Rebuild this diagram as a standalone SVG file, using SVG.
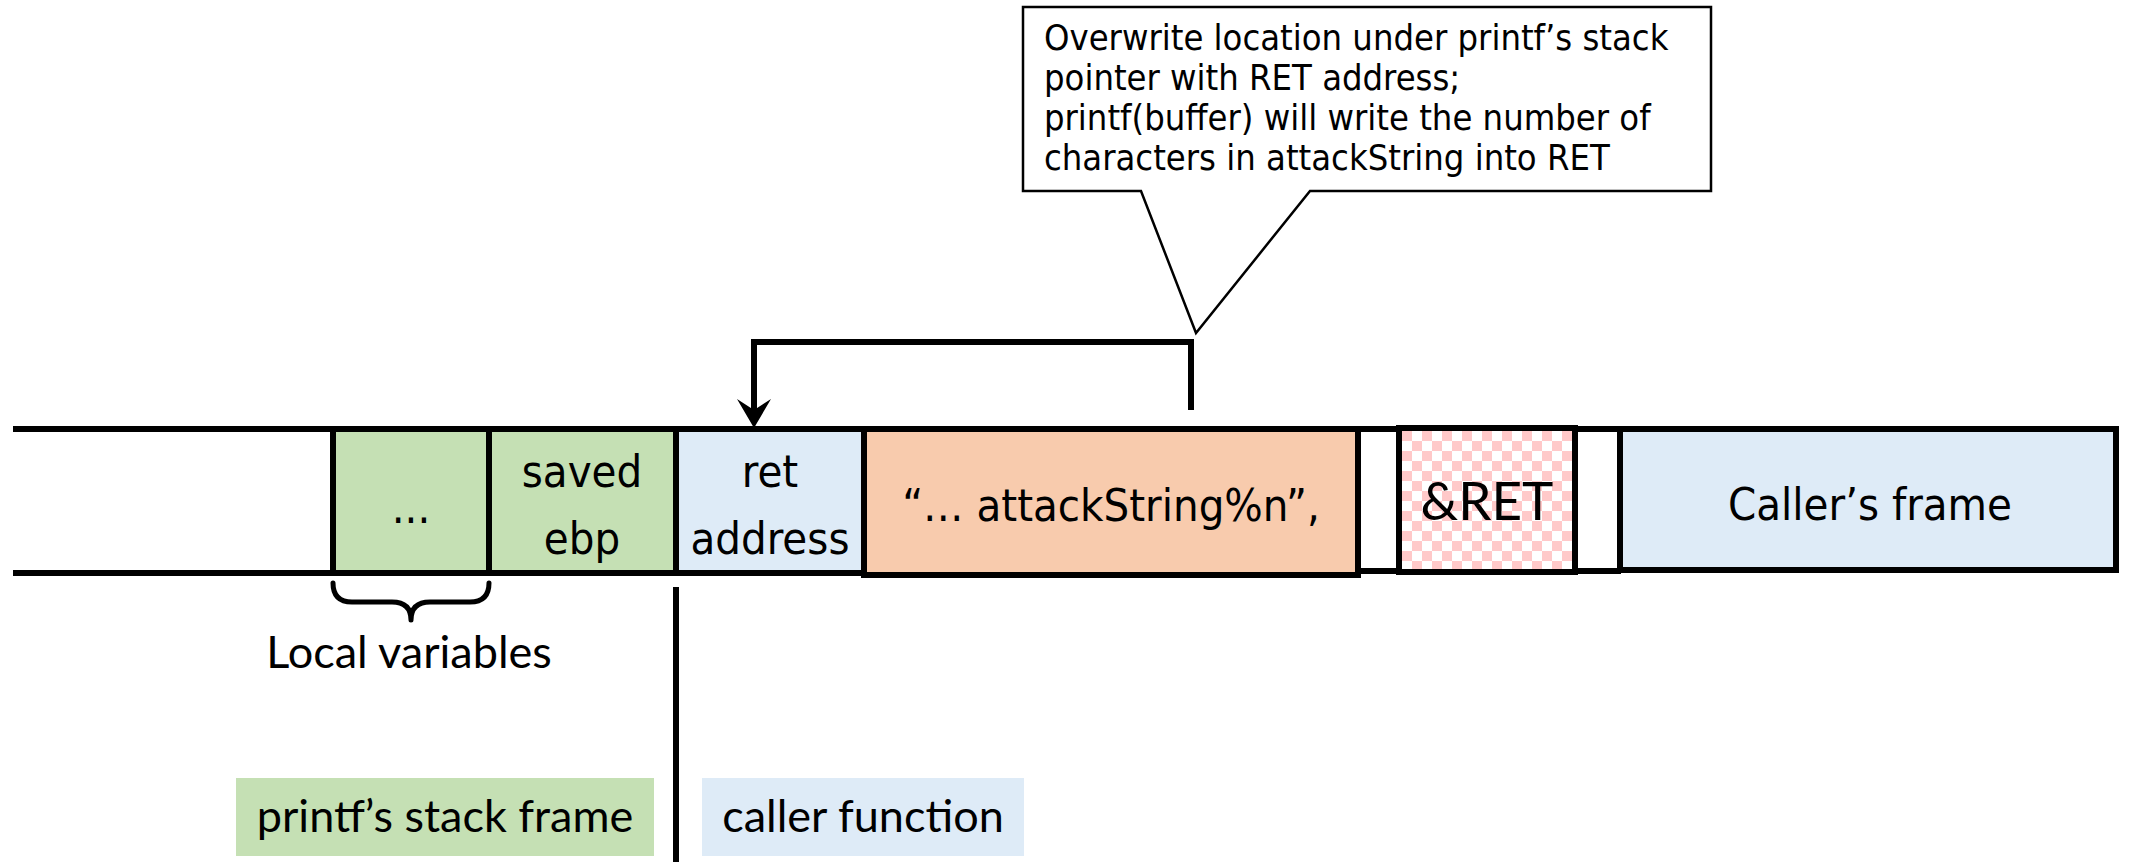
<svg xmlns="http://www.w3.org/2000/svg" width="2129" height="862" viewBox="0 0 2129 862">
  <style>
    .cell { stroke: #000; stroke-width: 6; }
    .rail { stroke: #000; stroke-width: 6; fill: none; }
    .lbl { font-family: "DejaVu Sans Condensed", "DejaVu Sans", sans-serif; font-stretch: condensed; font-size: 45px; fill: #000; text-anchor: middle; }
    .note { font-family: "DejaVu Sans Condensed", "DejaVu Sans", sans-serif; font-stretch: condensed; font-size: 36px; fill: #000; }
    .cap { font-family: Lato, "Open Sans", sans-serif; font-size: 45px; fill: #000; }
  </style>
  <defs>
    <pattern id="checker" x="1402" y="431" width="20" height="20" patternUnits="userSpaceOnUse">
      <rect width="20" height="20" fill="#fff"/>
      <rect width="10" height="10" fill="#ffc9c9"/>
      <rect x="10" y="10" width="10" height="10" fill="#ffc9c9"/>
    </pattern>
  </defs>

  <!-- open stack rails on the left and in the gaps -->
  <g id="rails">
    <line class="rail" x1="13" y1="429" x2="336" y2="429"/>
    <line class="rail" x1="13" y1="573" x2="336" y2="573"/>
    <line class="rail" x1="1358" y1="429" x2="1400" y2="429"/>
    <line class="rail" x1="1358" y1="571" x2="1400" y2="571"/>
    <line class="rail" x1="1575" y1="429" x2="1621" y2="429"/>
    <line class="rail" x1="1575" y1="571" x2="1621" y2="571"/>
  </g>

  <g id="local-vars">
    <rect class="cell" x="333" y="429" width="156" height="144" fill="#c5e0b4"/>
    <text class="lbl" x="411" y="523">...</text>
  </g>
  <g id="saved-ebp">
    <rect class="cell" x="489" y="429" width="187" height="144" fill="#c5e0b4"/>
    <text class="lbl" x="582" y="487">saved</text>
    <text class="lbl" x="582" y="554">ebp</text>
  </g>
  <g id="ret-address">
    <rect class="cell" x="676" y="429" width="188" height="144" fill="#deebf7"/>
    <text class="lbl" x="770" y="487">ret</text>
    <text class="lbl" x="770" y="554">address</text>
  </g>
  <g id="attack-string">
    <rect class="cell" x="864" y="429" width="494" height="146" fill="#f8cbad"/>
    <text class="lbl" x="1111" y="521" font-size="46">“… attackString%n”,</text>
  </g>
  <g id="ret-ptr">
    <rect class="cell" x="1399" y="428" width="176" height="144" fill="url(#checker)"/>
    <text x="1487" y="520" font-family="Lato, 'Open Sans', sans-serif" font-size="53" text-anchor="middle">&amp;RET</text>
  </g>
  <g id="caller-frame">
    <rect class="cell" x="1620" y="429" width="496" height="141" fill="#deebf7"/>
    <text class="lbl" x="1870" y="520">Caller’s frame</text>
  </g>

  <g id="local-brace">
    <path d="M333,583 Q333,602 352,602 L392,602 Q411,602 411,620 Q411,602 430,602 L470,602 Q489,602 489,583" fill="none" stroke="#000" stroke-width="5" stroke-linecap="round" stroke-linejoin="round"/>
    <text class="cap" x="409" y="668" text-anchor="middle">Local variables</text>
  </g>

  <g id="frame-divider">
    <line x1="676" y1="587" x2="676" y2="862" stroke="#000" stroke-width="6"/>
  </g>

  <g id="legend-printf">
    <rect x="236" y="778" width="418" height="78" fill="#c5e0b4"/>
    <text class="cap" x="445" y="832" text-anchor="middle">printf’s stack frame</text>
  </g>
  <g id="legend-caller">
    <rect x="702" y="778" width="322" height="78" fill="#deebf7"/>
    <text class="cap" x="863" y="832" text-anchor="middle">caller function</text>
  </g>

  <g id="callout">
    <path d="M1023,7 H1711 V191 H1310 L1196,333 L1141,191 H1023 Z" fill="#fff" stroke="#000" stroke-width="2.5" stroke-linejoin="miter"/>
    <text class="note" x="1044" y="50">Overwrite location under printf’s stack</text>
    <text class="note" x="1044" y="90">pointer with RET address;</text>
    <text class="note" x="1044" y="130">printf(buffer) will write the number of</text>
    <text class="note" x="1044" y="170">characters in attackString into RET</text>
  </g>

  <g id="connectors">
    <path d="M1191,410 V342 H754 V410" fill="none" stroke="#000" stroke-width="6" stroke-linejoin="miter"/>
    <path d="M754,428 L737,399 L754,410 L771,399 Z" fill="#000"/>
  </g>
</svg>
